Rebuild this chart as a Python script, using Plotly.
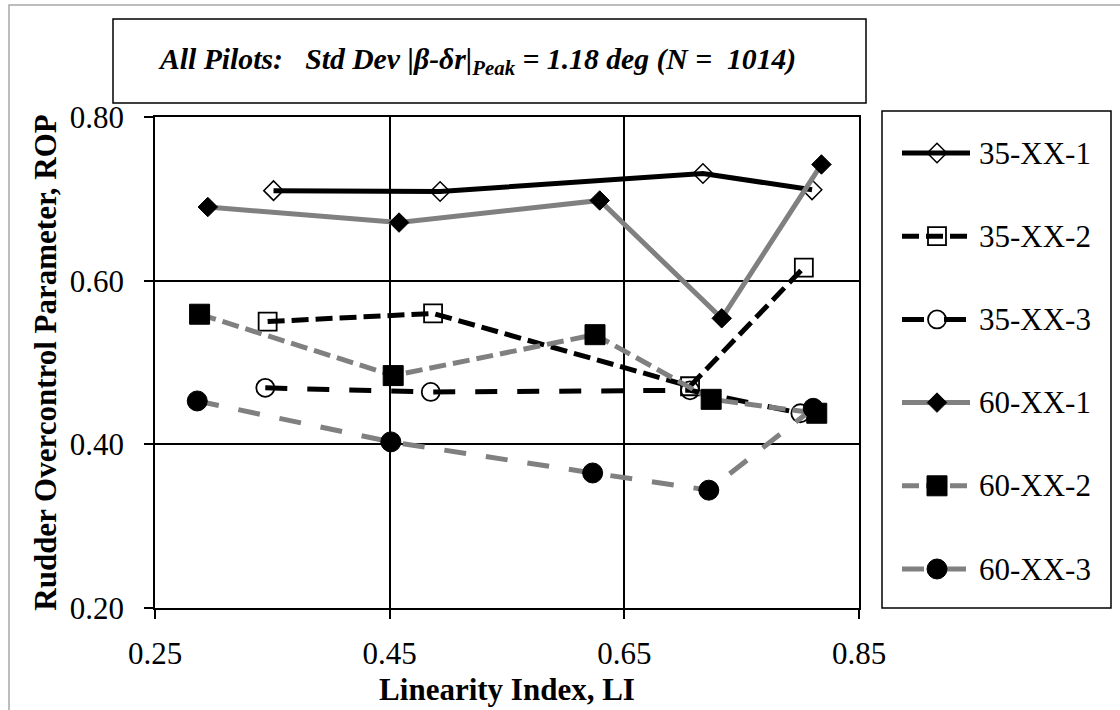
import plotly.graph_objects as go

# Linearity Index (LI) and Rudder Overcontrol Parameter (ROP) per configuration
li_35_1 = [0.351, 0.493, 0.717, 0.810]
rop_35_1 = [0.710, 0.709, 0.731, 0.711]

li_35_2 = [0.346, 0.487, 0.706, 0.803]
rop_35_2 = [0.550, 0.560, 0.471, 0.616]

li_35_3 = [0.344, 0.485, 0.706, 0.800]
rop_35_3 = [0.469, 0.464, 0.466, 0.438]

li_60_1 = [0.295, 0.458, 0.629, 0.733, 0.818]
rop_60_1 = [0.690, 0.671, 0.698, 0.554, 0.742]

li_60_2 = [0.288, 0.453, 0.625, 0.724, 0.814]
rop_60_2 = [0.559, 0.484, 0.534, 0.455, 0.438]

li_60_3 = [0.286, 0.451, 0.623, 0.722, 0.811]
rop_60_3 = [0.453, 0.403, 0.365, 0.344, 0.444]

x_ticks = [0.25, 0.45, 0.65, 0.85]
y_ticks = [0.20, 0.40, 0.60, 0.80]

W, H = 1120, 710
FONT = "Liberation Serif"
GRAY = "#808080"
SHORT_DASH = "17px,7px"
LONG_DASH = "22px,20px"
LINE_W = 5

series = [
    dict(name="35-XX-1", x=li_35_1, y=rop_35_1, color="black", dash="solid",
         symbol="diamond-open", size=15, mline=1.5),
    dict(name="35-XX-2", x=li_35_2, y=rop_35_2, color="black", dash=SHORT_DASH,
         symbol="square-open", size=18, mline=1.8),
    dict(name="35-XX-3", x=li_35_3, y=rop_35_3, color="black", dash=LONG_DASH,
         symbol="circle-open", size=18, mline=1.8),
    dict(name="60-XX-1", x=li_60_1, y=rop_60_1, color=GRAY, dash="solid",
         symbol="diamond", size=15, mline=1),
    dict(name="60-XX-2", x=li_60_2, y=rop_60_2, color=GRAY, dash=SHORT_DASH,
         symbol="square", size=20, mline=1),
    dict(name="60-XX-3", x=li_60_3, y=rop_60_3, color=GRAY, dash=LONG_DASH,
         symbol="circle", size=20, mline=1),
]


def px_x(p):
    return p / W


def px_y(p):
    return (H - p) / H


fig = go.Figure()

for s in series:
    fig.add_trace(go.Scatter(
        x=s["x"], y=s["y"], mode="lines+markers", name=s["name"],
        line=dict(color=s["color"], width=LINE_W, dash=s["dash"]),
        marker=dict(symbol=s["symbol"], size=s["size"], color="black",
                    line=dict(color="black", width=s["mline"])),
        showlegend=False, xaxis="x", yaxis="y",
    ))

# legend panel drawn on its own pixel-scaled axes
LEG_W, LEG_H = 229, 497
ROW0, ROW_STEP = 42, 83.2
annotations = []
for i, s in enumerate(series):
    yy = ROW0 + ROW_STEP * i
    fig.add_trace(go.Scatter(
        x=[20, 88], y=[yy, yy], mode="lines",
        line=dict(color=s["color"], width=LINE_W, dash=s["dash"]),
        showlegend=False, hoverinfo="skip", xaxis="x2", yaxis="y2",
    ))
    fig.add_trace(go.Scatter(
        x=[55], y=[yy], mode="markers",
        marker=dict(symbol=s["symbol"], size=s["size"], color="black",
                    line=dict(color="black", width=s["mline"])),
        showlegend=False, hoverinfo="skip", xaxis="x2", yaxis="y2",
    ))
    annotations.append(dict(
        x=95, y=yy, xref="x2", yref="y2", text=s["name"], showarrow=False,
        xanchor="left", yanchor="middle",
        font=dict(family=FONT, size=31, color="black"),
    ))

nb = "\u00a0"
title_text = ("<b><i>All Pilots:" + nb * 3 + "Std Dev |\u03b2-\u03b4r|<sub>Peak</sub>"
              " = 1.18 deg (N =" + nb * 2 + "1014)</i></b>")
annotations.append(dict(
    x=px_x(156), y=px_y(61), xref="paper", yref="paper", text=title_text,
    showarrow=False, xanchor="left", yanchor="middle",
    font=dict(family=FONT, size=29.7, color="black"),
))

shapes = [
    # outer frame
    dict(type="rect", xref="paper", yref="paper",
         x0=px_x(9), x1=px_x(1130), y0=px_y(720), y1=px_y(5),
         line=dict(color="#A8A8A8", width=1.5)),
    # title box
    dict(type="rect", xref="paper", yref="paper",
         x0=px_x(113), x1=px_x(866), y0=px_y(103), y1=px_y(19),
         line=dict(color="black", width=1.5)),
    # legend box
    dict(type="rect", xref="paper", yref="paper",
         x0=px_x(882), x1=px_x(1111), y0=px_y(608), y1=px_y(111),
         line=dict(color="black", width=1.5)),
]

tick_font = dict(family=FONT, size=31, color="black")
title_font = dict(family=FONT, size=31, color="black")

fig.update_layout(
    width=W, height=H,
    margin=dict(l=0, r=0, t=0, b=0),
    paper_bgcolor="white", plot_bgcolor="white",
    showlegend=False,
    font=dict(family=FONT, color="black"),
    annotations=annotations,
    shapes=shapes,
    xaxis=dict(
        domain=[px_x(155), px_x(859)], range=[0.25, 0.85],
        tickvals=x_ticks, ticktext=[f"{v:.2f}" for v in x_ticks],
        showgrid=True, gridcolor="black", gridwidth=1.8,
        showline=True, linecolor="black", linewidth=1.8, mirror=True,
        ticks="outside", ticklen=9, tickwidth=1.8, tickcolor="black",
        ticklabelstandoff=8,
        zeroline=False, tickfont=tick_font, automargin=False,
        title=dict(text="<b>Linearity Index, LI</b>", font=title_font, standoff=8),
    ),
    yaxis=dict(
        domain=[px_y(608), px_y(117)], range=[0.2, 0.8],
        tickvals=y_ticks, ticktext=[f"{v:.2f}" for v in y_ticks],
        showgrid=True, gridcolor="black", gridwidth=1.8,
        showline=True, linecolor="black", linewidth=1.8, mirror=True,
        ticks="outside", ticklen=9, tickwidth=1.8, tickcolor="black",
        ticklabelstandoff=14,
        zeroline=False, tickfont=tick_font, automargin=False,
        title=dict(text="<b>Rudder Overcontrol Parameter, ROP</b>", font=title_font,
                   standoff=4),
    ),
    xaxis2=dict(domain=[px_x(882), px_x(1111)], range=[0, LEG_W], visible=False,
                fixedrange=True, anchor="y2"),
    yaxis2=dict(domain=[px_y(608), px_y(111)], range=[LEG_H, 0], visible=False,
                fixedrange=True, anchor="x2"),
)

fig.write_html("out.html")
